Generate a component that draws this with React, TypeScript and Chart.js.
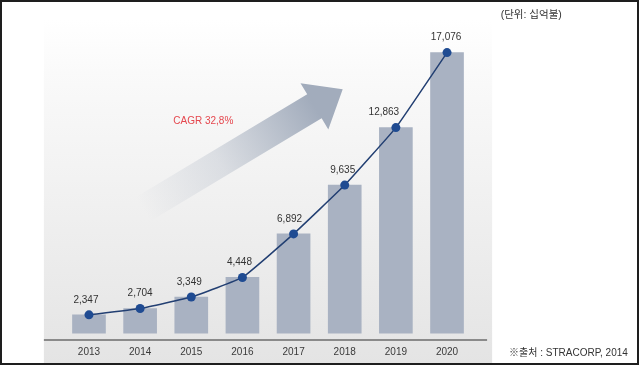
import React, { useEffect, useRef } from "react";
import { Chart, registerables } from "chart.js";

Chart.register(...registerables);

// ---- data ----
const years = ["2013", "2014", "2015", "2016", "2017", "2018", "2019", "2020"];
const values = [2347, 2704, 3349, 4448, 6892, 9635, 12863, 17076];
const valueLabels = ["2,347", "2,704", "3,349", "4,448", "6,892", "9,635", "12,863", "17,076"];
const unitText = "(단위: 십억불)";
const sourceText = "※출처 : STRACORP, 2014";
const cagrText = "CAGR 32,8%";

// ---- styling ----
const FONT = '"Liberation Sans", Arial, "Noto Sans CJK KR", sans-serif';
const labelNudgeX = [-3, 0, -2, -3, -4, -2, -12, -1];

const decorPlugin = {
  id: "decor",
  beforeDraw(chart: any) {
    const { ctx, chartArea: ca } = chart;
    ctx.save();
    ctx.fillStyle = "#ffffff";
    ctx.fillRect(0, 0, chart.width, chart.height);
    // plot background gradient
    const bgL = ca.left - 19.5;
    const bgR = ca.right + 19.5;
    const g = ctx.createLinearGradient(0, 20, 0, 364);
    g.addColorStop(0, "#ffffff");
    g.addColorStop(0.15, "#fafafa");
    g.addColorStop(1, "#e4e4e4");
    ctx.fillStyle = g;
    ctx.fillRect(bgL, 20, bgR - bgL, 344);

    // growth arrow
    const tip = { x: 342.7, y: 89.3 };
    const ang = (-31 * Math.PI) / 180;
    const u = { x: Math.cos(ang), y: Math.sin(ang) };
    const n = { x: -u.y, y: u.x };
    const headLen = 33, headHalf = 27, shaftHalf = 14, shaftLen = 200;
    const B = { x: tip.x - headLen * u.x, y: tip.y - headLen * u.y };
    const T = { x: B.x - shaftLen * u.x, y: B.y - shaftLen * u.y };
    const ag = ctx.createLinearGradient(T.x, T.y, B.x, B.y);
    ag.addColorStop(0, "rgba(162,172,188,0)");
    ag.addColorStop(0.45, "rgba(162,172,188,0.3)");
    ag.addColorStop(1, "rgba(162,172,188,1)");
    ctx.fillStyle = ag;
    ctx.beginPath();
    ctx.moveTo(tip.x, tip.y);
    ctx.lineTo(B.x + headHalf * n.x, B.y + headHalf * n.y);
    ctx.lineTo(B.x + shaftHalf * n.x, B.y + shaftHalf * n.y);
    ctx.lineTo(T.x + shaftHalf * n.x, T.y + shaftHalf * n.y);
    ctx.lineTo(T.x - shaftHalf * n.x, T.y - shaftHalf * n.y);
    ctx.lineTo(B.x - shaftHalf * n.x, B.y - shaftHalf * n.y);
    ctx.lineTo(B.x - headHalf * n.x, B.y - headHalf * n.y);
    ctx.closePath();
    ctx.fill();
    ctx.restore();
  },
  afterDatasetsDraw(chart: any) {
    const { ctx } = chart;
    const meta = chart.getDatasetMeta(0);
    ctx.save();
    ctx.font = `10px ${FONT}`;
    ctx.fillStyle = "#333333";
    ctx.textAlign = "center";
    ctx.textBaseline = "middle";
    meta.data.forEach((pt: any, i: number) => {
      ctx.fillText(valueLabels[i], pt.x + labelNudgeX[i], pt.y - 15);
    });
    ctx.restore();
  },
  afterDraw(chart: any) {
    const { ctx, chartArea: ca } = chart;
    ctx.save();
    // axis line
    ctx.strokeStyle = "#8a8a8a";
    ctx.lineWidth = 2;
    ctx.beginPath();
    ctx.moveTo(ca.left - 19.5, ca.bottom + 6.5);
    ctx.lineTo(ca.right + 14.5, ca.bottom + 6.5);
    ctx.stroke();
    // texts
    ctx.textBaseline = "middle";
    ctx.textAlign = "left";
    ctx.fillStyle = "#333333";
    ctx.font = `10.5px ${FONT}`;
    ctx.fillText(unitText, 500.7, 15);
    ctx.font = `10px ${FONT}`;
    ctx.fillText(sourceText, 509, 353.3);
    ctx.fillStyle = "#e5474e";
    ctx.fillText(cagrText, 173.3, 121.7);
    // frame
    ctx.strokeStyle = "#1e1e1e";
    ctx.lineWidth = 2;
    ctx.strokeRect(1, 1, 637, 363);
    ctx.restore();
  },
};

export default function App() {
  const ref = useRef<HTMLCanvasElement | null>(null);
  useEffect(() => {
    document.body.style.margin = "0";
    const canvas = ref.current!;
    const chart = new Chart(canvas, {
      type: "bar",
      data: {
        labels: years,
        datasets: [
          {
            type: "line",
            data: values,
            order: 0,
            borderColor: "#223f72",
            borderWidth: 1.5,
            tension: 0.1,
            pointRadius: 4.5,
            pointBackgroundColor: "#1f4b92",
            pointBorderWidth: 0,
          } as any,
          {
            type: "bar",
            data: values,
            order: 1,
            backgroundColor: "#a9b2c2",
            barThickness: 33,
          },
        ],
      },
      options: {
        animation: false,
        responsive: false,
        devicePixelRatio: 1,
        layout: { padding: { left: 63.4, right: 168.4, top: 29, bottom: 0 } },
        plugins: { legend: { display: false }, tooltip: { enabled: false } },
        scales: {
          x: {
            grid: { display: false, drawTicks: false },
            border: { display: false },
            ticks: { color: "#3a3a3a", font: { family: FONT, size: 10 }, padding: 12.7 },
            afterFit: (scale: any) => {
              scale.height = 32.5;
            },
          },
          y: { display: false, min: 1300, max: 18400 },
        },
      },
      plugins: [decorPlugin],
    });
    return () => chart.destroy();
  }, []);
  return (
    <div style={{ position: "absolute", left: 0, top: 0, width: 641, height: 366 }}>
      <canvas ref={ref} width={641} height={366} style={{ width: 641, height: 366, display: "block" }} />
    </div>
  );
}
